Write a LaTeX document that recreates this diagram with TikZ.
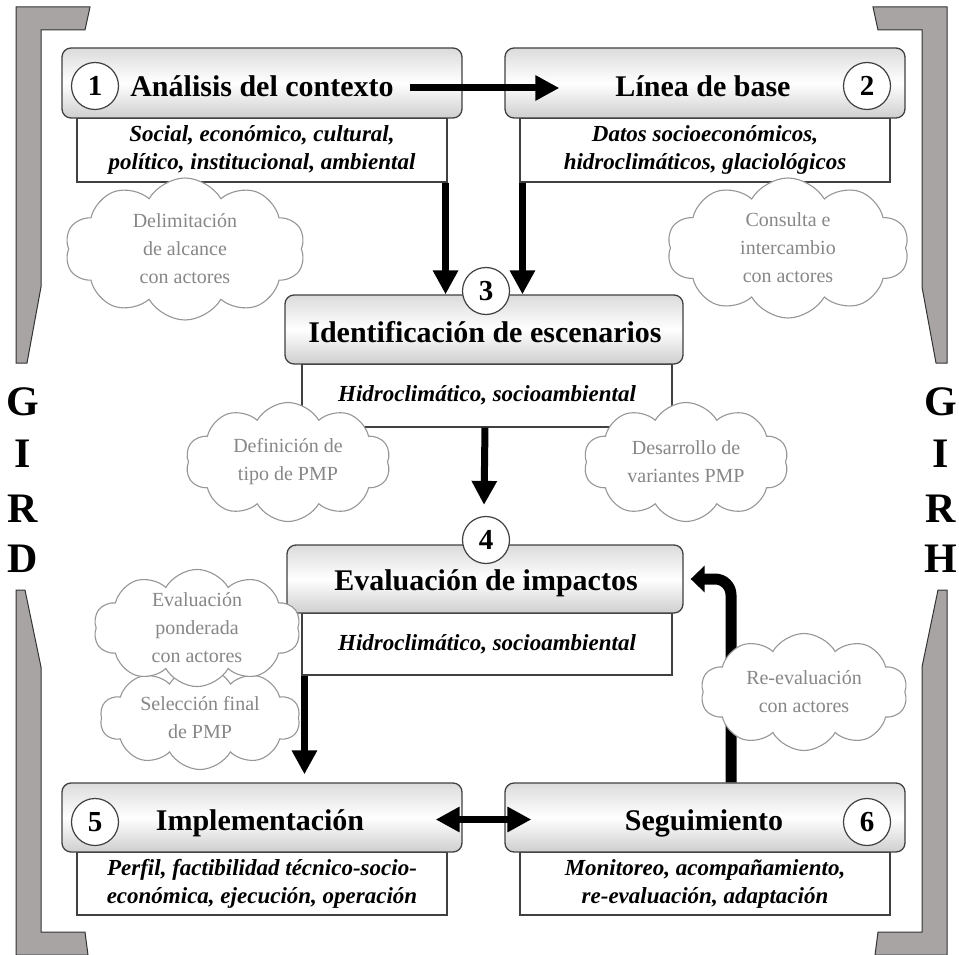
\documentclass[tikz,border=0pt]{standalone}
\usepackage{fontspec}
\setmainfont{Liberation Serif}
\usetikzlibrary{arrows.meta,shapes.symbols,calc}
\definecolor{sidegray}{RGB}{168,164,164}
\definecolor{cloudline}{RGB}{150,150,150}
\definecolor{cloudtext}{RGB}{135,135,135}
\begin{document}
\begin{tikzpicture}[x=1pt,y=-1pt,
  hdr/.style={draw=black!75, line width=1.3pt, rounded corners=9pt, minimum width=400pt, minimum height=70pt, top color=gray!28, bottom color=gray!38, middle color=white, inner sep=0},
  sub/.style={draw=black!75, line width=1.1pt, fill=white, minimum width=370pt, minimum height=63pt, inner sep=0, align=center, font=\fontsize{23}{28}\selectfont\bfseries\itshape},
  ttl/.style={inner sep=0, anchor=base, font=\fontsize{30}{34}\selectfont\bfseries},
  num/.style={circle, draw=black!75, line width=1.2pt, fill=white, minimum size=47pt, inner sep=0, font=\fontsize{29}{30}\selectfont\bfseries},
  cld/.style={cloud, cloud puffs=10, cloud puff arc=120, cloud ignores aspect, draw=cloudline, line width=1.1pt, fill=white, inner sep=0, align=center, text=cloudtext, font=\fontsize{20}{28}\selectfont},
  arr/.style={line width=7pt, -{Triangle[length=24pt,width=24pt]}},
  side/.style={fill=sidegray, draw=black!80, line width=1pt},
  gl/.style={font=\fontsize{42}{44}\selectfont\bfseries, inner sep=0, anchor=base}]
\useasboundingbox (0,0) rectangle (959,955);

% side brackets
\draw[side] (16,7) -- (90,7) -- (85,30) -- (41,30) -- (41,287) -- (27,363) -- (16,363) -- cycle;
\draw[side] (16,590) -- (25,590) -- (41,667) -- (41,932) -- (85,932) -- (88,955) -- (16,955) -- cycle;
\draw[side] (947,7) -- (873,7) -- (878,30) -- (922,30) -- (922,287) -- (936,363) -- (947,363) -- cycle;
\draw[side] (947,590) -- (938,590) -- (922,667) -- (922,932) -- (878,932) -- (875,955) -- (947,955) -- cycle;

\node[gl] (gL1) at (23,415) {G};
\node[gl] (gL2) at (23,467) {I};
\node[gl] (gL3) at (23,522) {R};
\node[gl] (gL4) at (23,572) {D};
\node[gl] (gR1) at (941,415) {G};
\node[gl] (gR2) at (941,467) {I};
\node[gl] (gR3) at (941,522) {R};
\node[gl] (gR4) at (941,572) {H};

% sub boxes
\node[sub, minimum height=64pt] (s1) at (262,150) {Social, económico, cultural,\\político, institucional, ambiental};
\node[sub, minimum height=64pt] (s2) at (705,150) {Datos socioeconómicos,\\hidroclimáticos, glaciológicos};
\node[sub] (s3) at (487,395.5) {Hidroclimático, socioambiental};
\node[sub, minimum height=62pt] (s4) at (487,644) {Hidroclimático, socioambiental};
\node[sub] (s5) at (262,883.5) {Perfil, factibilidad técnico-socio-\\económica, ejecución, operación};
\node[sub] (s6) at (705,883.5) {Monitoreo, acompañamiento,\\re-evaluación, adaptación};

% header boxes
\node[hdr] (b1) at (262,83) {};
\node[hdr] (b2) at (705,83) {};
\node[hdr, minimum width=398pt, minimum height=69pt] (b3) at (484,329.5) {};
\node[hdr, minimum width=396pt, minimum height=68pt] (b4) at (485,579) {};
\node[hdr, minimum height=69pt] (b5) at (262,817.5) {};
\node[hdr, minimum height=69pt] (b6) at (705,817.5) {};

\node[ttl] (t1) at (262,97) {Análisis del contexto};
\node[ttl] (t2) at (703,97) {Línea de base};
\node[ttl] (t3) at (485,342) {Identificación de escenarios};
\node[ttl] (t4) at (486,590) {Evaluación de impactos};
\node[ttl] (t5) at (260,830) {Implementación};
\node[ttl] (t6) at (704,830) {Seguimiento};

\node[num] (c1) at (95,86) {1};
\node[num] (c2) at (867,86) {2};
\node[num] (c3) at (486,291) {3};
\node[num] (c4) at (486,540) {4};
\node[num] (c5) at (95,822) {5};
\node[num] (c6) at (867,822) {6};

% arrows
\draw[arr] ($(t1.east |- c1.center)+(16,2)$) -- ($(b2.west |- c1.center)+(55,2)$);
\draw[arr] ([xshift=-2pt]s1.south east) -- ([xshift=-2pt]s1.south east |- b3.north);
\draw[arr] ([xshift=3pt]s2.south west) -- ([xshift=3pt]s2.south west |- b3.north);
\draw[arr] ([xshift=-2pt]s3.south) -- ([xshift=-2pt,yshift=11pt]c4.north);
\draw[arr] ([xshift=3pt]s4.south west) -- ($(s4.south west |- b5.north)+(3,-8)$);
\draw[line width=7pt, {Triangle[length=24pt,width=24pt]}-{Triangle[length=24pt,width=24pt]}] ([xshift=-27pt,yshift=-2pt]b5.east) -- ([xshift=27pt,yshift=-2pt]b6.west);
\draw[line width=11pt, rounded corners=16pt, -{Triangle[length=14pt,width=26pt]}] ([xshift=26pt]b6.north) |- ([xshift=7pt]b4.east);

% clouds
\node[cld, minimum width=240pt, minimum height=142pt] (k1) at (185,249) {Delimitación\\de alcance\\con actores};
\node[cld, minimum width=242pt, minimum height=140pt] (k2) at (788,248) {Consulta e\\intercambio\\con actores};
\node[cld, minimum width=205pt, minimum height=119pt] (k3) at (288,462) {Definición de\\tipo de PMP};
\node[cld, minimum width=205pt, minimum height=119pt] (k4) at (686,462) {Desarrollo de\\variantes PMP};
\node[cld, minimum width=200pt, minimum height=103pt] (k6) at (200,718) {Selección final\\de PMP};
\node[cld, minimum width=207pt, minimum height=117pt] (k5) at (197,628) {Evaluación\\ponderada\\con actores};
\node[cld, minimum width=207pt, minimum height=117pt] (k7) at (804,692) {Re-evaluación\\con actores};
\end{tikzpicture}
\end{document}
